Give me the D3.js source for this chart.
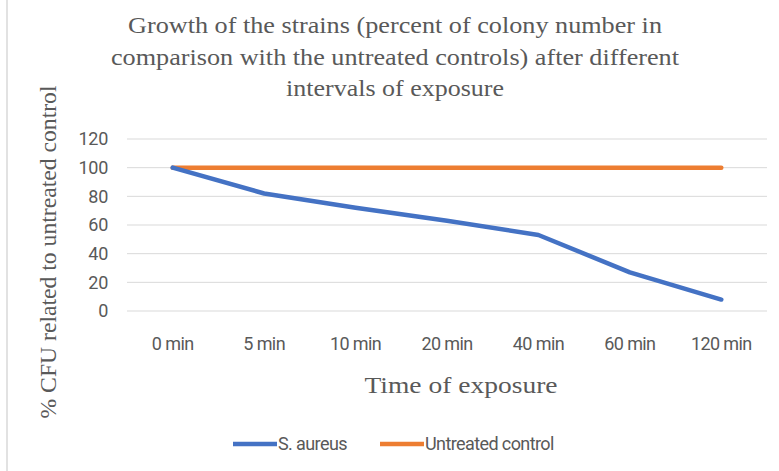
<!DOCTYPE html>
<html lang="en">
<head>
  <meta charset="UTF-8">
  <title>Growth of the strains</title>
  <script src="https://d3js.org/d3.v7.min.js"></script>
  <style>
    body { margin: 0; background: #fff; }
    svg { display: block; }
  </style>
</head>
<body>
  <svg width="779" height="471"></svg>

  <script>
    const width = 779;
    const height = 471;
    const margin = { top: 139, right: 12, bottom: 160, left: 127 };

    const categories = ["0 min", "5 min", "10 min", "20 min", "40 min", "60 min", "120 min"];
    const sAureus = [100, 82, 72, 63, 53, 27, 8];
    const control = [100, 100, 100, 100, 100, 100, 100];
    const yTicks = [0, 20, 40, 60, 80, 100, 120];
    const titleLines = [
      "Growth of the strains (percent of colony number in",
      "comparison with the untreated controls) after different",
      "intervals of exposure"
    ];
    // the serif texts in the picture are stretched a bit wider
    const titleWidths = [534, 568, 218];

    const svg = d3.select("svg");
    const textColor = "#595959";
    const serif = "'Liberation Serif', 'Times New Roman', serif";
    const sans = "Roboto, 'Liberation Sans', sans-serif";

    // left border of the chart area
    svg.append("line")
      .attr("x1", 7).attr("x2", 7)
      .attr("y1", 0).attr("y2", height)
      .attr("stroke", "#d9d9d9")
      .attr("stroke-width", 1.5);

    const x = d3.scaleBand()
      .domain(categories)
      .range([margin.left, width - margin.right]);

    const y = d3.scaleLinear()
      .domain([0, 120])
      .range([311, margin.top]);

    // grid
    svg.append("g")
      .selectAll("line")
      .data(yTicks)
      .join("line")
      .attr("x1", margin.left)
      .attr("x2", width - margin.right)
      .attr("y1", d => y(d))
      .attr("y2", d => y(d))
      .attr("stroke", "#d9d9d9")
      .attr("stroke-width", 1);

    // y tick labels
    const yAxis = svg.append("g")
      .attr("transform", `translate(${margin.left - 19},0)`)
      .call(d3.axisLeft(y).tickValues(yTicks).tickSize(0).tickPadding(0));
    yAxis.select(".domain").remove();
    yAxis.selectAll("text")
      .attr("fill", textColor)
      .style("font-family", sans)
      .style("font-size", "18px")
      .style("letter-spacing", "-0.3px");

    // x tick labels
    const xAxis = svg.append("g")
      .attr("transform", `translate(0,${y(0)})`)
      .call(d3.axisBottom(x).tickSize(0).tickPadding(26));
    xAxis.select(".domain").remove();
    xAxis.selectAll("text")
      .attr("fill", textColor)
      .style("font-family", sans)
      .style("font-size", "18px")
      .style("letter-spacing", "-0.6px");

    const line = d3.line()
      .x((d, i) => x(categories[i]) + x.bandwidth() / 2)
      .y(d => y(d));

    svg.append("path")
      .datum(control)
      .attr("d", line)
      .attr("fill", "none")
      .attr("stroke", "#ed7d31")
      .attr("stroke-width", 4.5)
      .attr("stroke-linecap", "round")
      .attr("stroke-linejoin", "round");

    svg.append("path")
      .datum(sAureus)
      .attr("d", line)
      .attr("fill", "none")
      .attr("stroke", "#4472c4")
      .attr("stroke-width", 4.5)
      .attr("stroke-linecap", "round")
      .attr("stroke-linejoin", "round");

    // title
    svg.append("g")
      .selectAll("text")
      .data(titleLines)
      .join("text")
      .attr("x", 395)
      .attr("y", (d, i) => 33 + i * 31.5)
      .attr("text-anchor", "middle")
      .attr("textLength", (d, i) => titleWidths[i])
      .attr("lengthAdjust", "spacingAndGlyphs")
      .attr("fill", textColor)
      .style("font-family", serif)
      .style("font-size", "23px")
      .text(d => d);

    // axis titles
    svg.append("text")
      .attr("x", 461)
      .attr("y", 393)
      .attr("text-anchor", "middle")
      .attr("textLength", 193)
      .attr("lengthAdjust", "spacingAndGlyphs")
      .attr("fill", textColor)
      .style("font-family", serif)
      .style("font-size", "23px")
      .text("Time of exposure");

    svg.append("text")
      .attr("transform", `translate(56,252) rotate(-90)`)
      .attr("text-anchor", "middle")
      .attr("textLength", 333)
      .attr("lengthAdjust", "spacingAndGlyphs")
      .attr("fill", textColor)
      .style("font-family", serif)
      .style("font-size", "23px")
      .text("% CFU related to untreated control");

    // legend
    const legendItems = [
      { name: "S. aureus", color: "#4472c4", x: 233 },
      { name: "Untreated control", color: "#ed7d31", x: 380 }
    ];
    const legend = svg.append("g")
      .selectAll("g")
      .data(legendItems)
      .join("g")
      .attr("transform", d => `translate(${d.x},444)`);
    legend.append("line")
      .attr("x1", 0).attr("x2", 44)
      .attr("stroke", d => d.color)
      .attr("stroke-width", 4.5);
    legend.append("text")
      .attr("x", 45)
      .attr("dy", "0.35em")
      .attr("fill", textColor)
      .style("font-family", sans)
      .style("font-size", "18px")
      .style("letter-spacing", "-0.6px")
      .text(d => d.name);
  </script>
</body>
</html>
